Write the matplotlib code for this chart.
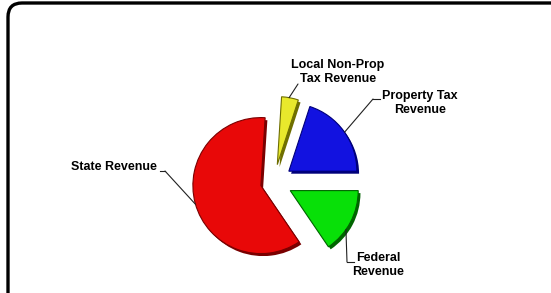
import numpy as np
import matplotlib
matplotlib.use('Agg')
import matplotlib.pyplot as plt
import matplotlib.patheffects as pe
from matplotlib.patches import FancyBboxPatch
from matplotlib.lines import Line2D

# revenue shares (percent)
labels = ['Property Tax\nRevenue', 'Local Non-Prop\nTax Revenue', 'State Revenue', 'Federal\nRevenue']
shares = [20.0, 4.0, 60.5, 15.5]
colors = ['#1212e0', '#e8e82c', '#e80808', '#08e008']
shades = ['#00007a', '#6e6e00', '#7a0000', '#006400']
explode = [0.27, 0.26, 0.2, 0.27]

plt.rcParams['font.family'] = ['Liberation Sans', 'DejaVu Sans']

W, H = 551, 293
fig = plt.figure(figsize=(W / 100, H / 100), dpi=100)
fig.patch.set_facecolor('white')

# rounded frame, running off the right and bottom edges
frame = FancyBboxPatch((8, -20), 580, 310, boxstyle='round,pad=0,rounding_size=14',
                       transform=None, fill=False, ec='black', lw=2.4)
fig.patches.append(frame)

cx, cy, R = 274, 111, 68.0
half = 1.6
ax = fig.add_axes([(cx - half * R) / W, (cy - half * R) / H, 2 * half * R / W, 2 * half * R / H])

wedges, _ = ax.pie(shares, colors=colors, explode=explode, startangle=0,
                   counterclock=True, radius=1.0,
                   wedgeprops=dict(linewidth=0.8))
ax.set_xlim(-half, half)
ax.set_ylim(-half, half)
ax.set_aspect('equal')
ax.axis('off')
for w, sh in zip(wedges, shades):
    w.set_edgecolor(sh)
    w.set_path_effects([pe.SimplePatchShadow(offset=(1.6, -1.8), shadow_rgbFace=sh, alpha=1.0),
                        pe.Normal()])


def rim(i, ang):
    w = wedges[i]
    a = np.deg2rad(ang)
    return (w.center[0] + w.r * np.cos(a), w.center[1] + w.r * np.sin(a))


def fpx(x, y):
    # image pixel (y down) to figure pixel
    return (x, H - y)


def leader(i, ang, elbow, end):
    ax.annotate('', xy=rim(i, ang), xytext=fpx(*elbow), textcoords='figure pixels',
                arrowprops=dict(arrowstyle='-', lw=0.8, color='#202020',
                                shrinkA=0, shrinkB=0))
    fig.add_artist(Line2D([elbow[0], end[0]], [H - elbow[1], H - end[1]],
                          transform=None, lw=0.8, color='#202020'))


tkw = dict(fontsize=9, fontweight='bold', ha='center', va='center',
           transform=None, linespacing=1.2)

# Property Tax
leader(0, 35, (373, 99), (380, 99))
fig.text(*fpx(420, 103), labels[0], **tkw)
# Local Non-Prop
leader(1, 80, (298, 84), (298, 84))
fig.text(*fpx(338, 72), labels[1], **tkw)
# State
leader(2, 196, (165, 171), (160, 171))
fig.text(*fpx(114, 167), labels[2], **tkw)
# Federal
leader(3, 325, (347, 262), (354, 262))
fig.text(*fpx(378, 265), labels[3], **tkw)

fig.savefig('out.png', dpi=100)
